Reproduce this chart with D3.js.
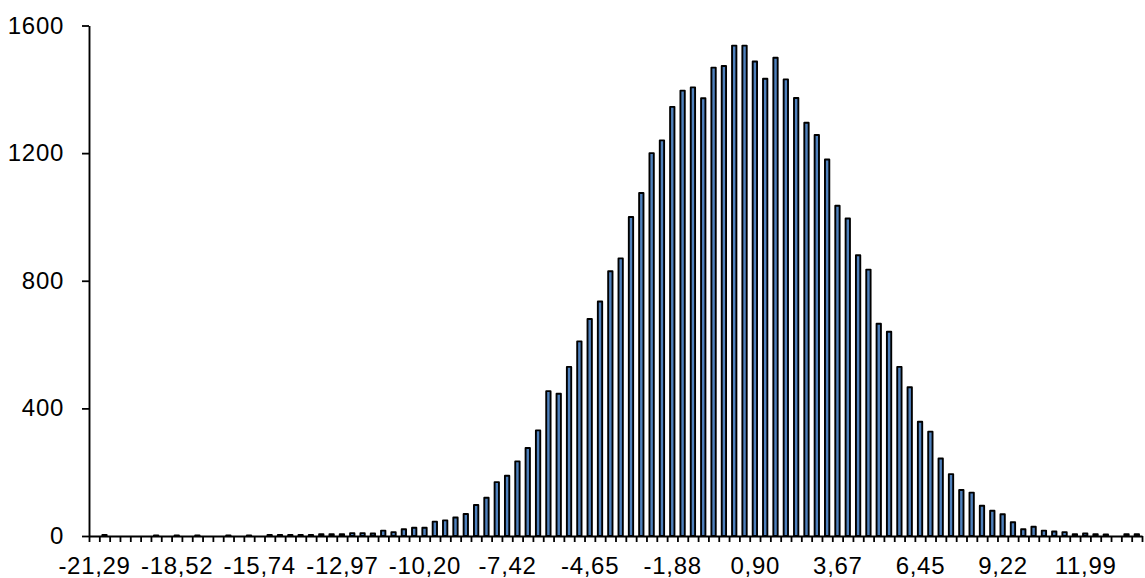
<!DOCTYPE html>
<html>
<head>
<meta charset="utf-8">
<script src="https://cdn.jsdelivr.net/npm/d3@7"></script>
<style>
  html, body { margin: 0; padding: 0; background: #fff; }
  svg { display: block; }
  text { font-family: "Liberation Sans", Arial, sans-serif; fill: #000; }
</style>
</head>
<body>
<svg id="chart" width="1145" height="578"></svg>
<script>
// ---- data ----
const categories = [
  "-21,29","-20,94","-20,60","-20,25","-19,90","-19,56","-19,21","-18,86","-18,52","-18,17",
  "-17,82","-17,48","-17,13","-16,78","-16,44","-16,09","-15,74","-15,40","-15,05","-14,70",
  "-14,36","-14,01","-13,66","-13,32","-12,97","-12,62","-12,28","-11,93","-11,58","-11,24",
  "-10,89","-10,54","-10,20","-9,85","-9,50","-9,16","-8,81","-8,46","-8,12","-7,77",
  "-7,42","-7,08","-6,73","-6,38","-6,04","-5,69","-5,34","-5,00","-4,65","-4,30",
  "-3,96","-3,61","-3,26","-2,92","-2,57","-2,22","-1,88","-1,53","-1,18","-0,84",
  "-0,49","-0,14","0,20","0,55","0,90","1,24","1,59","1,94","2,28","2,63",
  "2,98","3,32","3,67","4,02","4,36","4,71","5,06","5,40","5,75","6,10",
  "6,45","6,79","7,14","7,48","7,83","8,18","8,52","8,87","9,22","9,56",
  "9,91","10,26","10,60","10,95","11,30","11,64","11,99","12,34","12,68","13,03",
  "13,38","13,72"
];
const counts = [
  0, 3, 0, 0, 0, 0, 2, 0, 2, 0,
  2, 0, 0, 2, 0, 2, 0, 3, 3, 3,
  3, 3, 6, 6, 6, 9, 9, 8, 17, 12,
  21, 26, 26, 45, 49, 58, 69, 97, 120, 169,
  189, 234, 276, 331, 454, 446, 530, 610, 680, 735,
  830, 870, 1000, 1075, 1200, 1240, 1345, 1396, 1406, 1372,
  1468, 1473, 1537, 1537, 1487, 1433, 1499, 1431, 1373, 1295,
  1257, 1180, 1035, 995, 880, 835, 665, 640, 530, 466,
  358, 327, 243, 194, 144, 136, 95, 79, 68, 43,
  21, 29, 17, 14, 12, 6, 8, 6, 5, 0,
  6, 6
];
const xTickLabels = ["-21,29","-18,52","-15,74","-12,97","-10,20","-7,42","-4,65","-1,88","0,90","3,67","6,45","9,22","11,99"];
const yTickValues = [0, 400, 800, 1200, 1600];

// ---- layout ----
const plotLeft = 89, plotRight = 1142, plotTop = 25.5, plotBottom = 536;
const svg = d3.select("#chart");

const x = d3.scaleBand().domain(categories).range([plotLeft, plotRight]).padding(0);
const xIdx = d3.scaleLinear().domain([0, categories.length]).range([plotLeft, plotRight]);
const y = d3.scaleLinear().domain([0, 1600]).range([plotBottom, plotTop]);

const bw = x.bandwidth();
const barW = bw * 0.42;

// bars
svg.append("g")
  .selectAll("rect")
  .data(categories.map((c, i) => ({c, v: counts[i]})).filter(d => d.v > 0))
  .join("rect")
  .attr("x", d => x(d.c) + (bw - barW) / 2)
  .attr("width", barW)
  .attr("y", d => y(d.v))
  .attr("height", d => y(0) - y(d.v))
  .attr("fill", "#4f81bd")
  .attr("stroke", "#000")
  .attr("stroke-width", 1.9)
  .attr("stroke-linejoin", "round");

// x axis (ticks at category boundaries)
const xAxis = d3.axisBottom(xIdx)
  .tickValues(d3.range(0, categories.length + 1))
  .tickSize(6)
  .tickSizeOuter(0)
  .tickFormat("");
const gx = svg.append("g").attr("transform", `translate(0,${plotBottom})`).call(xAxis);
gx.attr("font-size", null).attr("font-family", null);
gx.selectAll("path, line").attr("stroke", "#000").attr("stroke-width", 1.8);

// x labels
svg.append("g")
  .selectAll("text")
  .data(xTickLabels)
  .join("text")
  .attr("x", d => x(d) + bw / 2 + 0.4)
  .attr("y", 574)
  .attr("text-anchor", "middle")
  .style("font-size", "24px")
  .style("letter-spacing", "0.7px")
  .text(d => d);

// y axis
const yAxis = d3.axisLeft(y)
  .tickValues(yTickValues)
  .tickSize(7)
  .tickSizeOuter(0)
  .tickPadding(0)
  .tickFormat(d3.format("d"));
const gy = svg.append("g").attr("transform", `translate(${plotLeft},0)`).call(yAxis);
gy.attr("font-size", null).attr("font-family", null);
gy.select(".domain").attr("stroke", "#000").attr("stroke-width", 1.9);
gy.selectAll("line").attr("stroke", "#000").attr("stroke-width", 1.8);
gy.selectAll("text")
  .attr("x", -25)
  .attr("dy", null)
  .attr("y", 7.5)
  .attr("text-anchor", "end")
  .style("font-size", "24px")
  .style("letter-spacing", "0.7px")
  .attr("fill", "#000");
</script>
</body>
</html>
